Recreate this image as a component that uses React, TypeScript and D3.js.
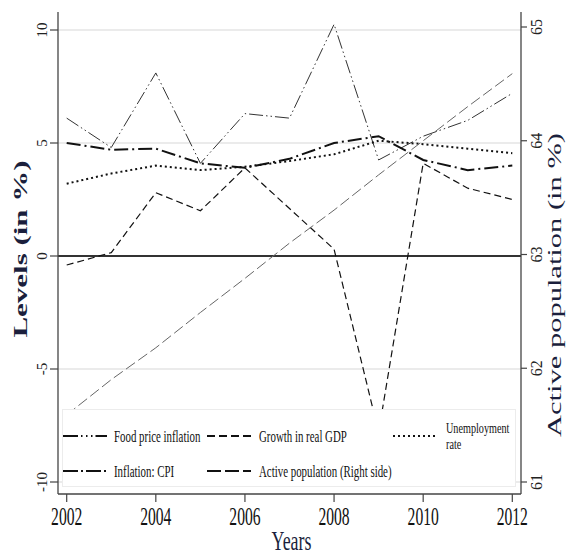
import * as d3 from 'd3';

// values
const years = [2002, 2003, 2004, 2005, 2006, 2007, 2008, 2009, 2010, 2011, 2012];
const foodInflation = [6.1, 4.8, 8.1, 4.1, 6.3, 6.1, 10.25, 4.25, 5.3, 6.0, 7.2];
const gdpGrowth = [-0.4, 0.15, 2.8, 2.0, 3.9, 2.1, 0.3, -7.8, 4.1, 3.0, 2.5];
const unemployment = [3.2, 3.65, 4.0, 3.8, 3.95, 4.2, 4.5, 5.1, 4.95, 4.75, 4.55];
const cpiInflation = [5.0, 4.7, 4.75, 4.1, 3.9, 4.3, 5.0, 5.3, 4.25, 3.8, 4.0];
const activePopulation = [61.59, 61.9, 62.18, 62.49, 62.79, 63.1, 63.39, 63.7, 64.0, 64.3, 64.59];

const leftTicks = [-10, -5, 0, 5, 10];
const rightTicks = [61, 62, 63, 64, 65];
const xTicks = [2002, 2004, 2006, 2008, 2010, 2012];

const W = 566;
const H = 556;
const axisLeft = 58;
const axisRight = 521;
const axisBottom = 494;
const axisTop = 12;

const x = d3.scaleLinear().domain([2002, 2012]).range([66.7, 512.3]);
const yL = d3.scaleLinear().domain([-10, 10]).range([482, 30]);
const yR = d3.scaleLinear().domain([61, 65]).range([482, 27]);

const lineL = (vals: number[]) =>
  d3.line<number>().x((_, i) => x(years[i])).y(d => yL(d))(vals) || '';
const lineR = (vals: number[]) =>
  d3.line<number>().x((_, i) => x(years[i])).y(d => yR(d))(vals) || '';

const serif = '"Liberation Serif", "Times New Roman", serif';
const titleColor = '#1b1f3c';

const series = [
  { name: 'food', d: lineL(foodInflation), stroke: '#333', width: 1, dash: '14,3,1.5,3,1.5,3' },
  { name: 'gdp', d: lineL(gdpGrowth), stroke: '#111', width: 1.2, dash: '7,4' },
  { name: 'unemp', d: lineL(unemployment), stroke: '#111', width: 2, dash: '2,3' },
  { name: 'cpi', d: lineL(cpiInflation), stroke: '#111', width: 2, dash: '14,4,2,4' },
  { name: 'active', d: lineR(activePopulation), stroke: '#666', width: 1, dash: '11,4' },
];

const legendItems = [
  { label: ['Food price inflation'], sx: 63, tx: 114, y: 436, dash: '15,3,1.5,3.5,1.5,3.5,1.5,3' },
  { label: ['Growth in real GDP'], sx: 207, tx: 259, y: 436, dash: '8,4' },
  { label: ['Unemployment', 'rate'], sx: 393, tx: 446, y: 436, dash: '2,3' },
  { label: ['Inflation: CPI'], sx: 63, tx: 114, y: 471, dash: '15,3,2,3' },
  { label: ['Active population (Right side)'], sx: 207, tx: 259, y: 471, dash: '14,4' },
];

const App = () => {
  return (
    <svg width={W} height={H} style={{ position: 'absolute', left: 0, top: 0, background: '#fff' }}>
      <rect width={W} height={H} fill="#fff" />

      {/* grid */}
      {leftTicks.filter(t => t !== 0).map(t => (
        <line key={t} x1={axisLeft} x2={axisRight} y1={yL(t)} y2={yL(t)} stroke="#e4e4e4" strokeWidth={1.5} />
      ))}
      <line x1={axisLeft} x2={axisRight} y1={yL(0)} y2={yL(0)} stroke="#333" strokeWidth={2} />

      {/* series */}
      {series.map(s => (
        <path key={s.name} d={s.d} fill="none" stroke={s.stroke} strokeWidth={s.width}
          strokeDasharray={s.dash} />
      ))}

      {/* legend */}
      <rect x={62.5} y={409.5} width={453} height={77} fill="#fff" stroke="#ececec" strokeWidth={1} />
      {legendItems.map(it => (
        <g key={it.label[0]}>
          <line x1={it.sx} x2={it.sx + 44} y1={it.y} y2={it.y} stroke="#111" strokeWidth={2.2}
            strokeDasharray={it.dash} />
          {it.label.length === 1 ? (
            <text transform={`translate(${it.tx},${it.y + 6}) scale(0.68,1)`} fontFamily={serif}
              fontSize={16} fill="#111">{it.label[0]}</text>
          ) : (
            it.label.map((l, j) => (
              <text key={l} transform={`translate(${it.tx},${it.y - 3 + j * 15.5}) scale(0.68,1)`}
                fontFamily={serif} fontSize={15} fill="#111">{l}</text>
            ))
          )}
        </g>
      ))}

      {/* axes */}
      <line x1={axisLeft} x2={axisLeft} y1={axisTop} y2={axisBottom} stroke="#444" strokeWidth={1.3} />
      <line x1={axisRight} x2={axisRight} y1={axisTop} y2={axisBottom} stroke="#444" strokeWidth={1.3} />
      <line x1={axisLeft} x2={axisRight} y1={axisBottom} y2={axisBottom} stroke="#444" strokeWidth={1.3} />

      {leftTicks.map(t => (
        <g key={t}>
          <line x1={axisLeft - 8} x2={axisLeft} y1={yL(t)} y2={yL(t)} stroke="#444" strokeWidth={1.2} />
          <text transform={`translate(47,${yL(t)}) rotate(-90)`} textAnchor="middle" fontFamily={serif}
            fontSize={15} fill="#222">{t}</text>
        </g>
      ))}
      {rightTicks.map(t => (
        <g key={t}>
          <line x1={axisRight} x2={axisRight + 6} y1={yR(t)} y2={yR(t)} stroke="#444" strokeWidth={1.2} />
          <text transform={`translate(542,${yR(t)}) rotate(-90)`} textAnchor="middle" fontFamily={serif}
            fontSize={16} fill="#222">{t}</text>
        </g>
      ))}
      {xTicks.map(t => (
        <g key={t}>
          <line x1={x(t)} x2={x(t)} y1={axisBottom} y2={axisBottom + 8} stroke="#444" strokeWidth={1.2} />
          <text transform={`translate(${x(t)},525) scale(0.6,1)`} textAnchor="middle" fontFamily={serif}
            fontSize={26} fill="#111">{t}</text>
        </g>
      ))}

      {/* titles */}
      <text transform="translate(291.5,550) scale(0.64,1)" textAnchor="middle" fontFamily={serif}
        fontSize={28} fill={titleColor}>Years</text>
      <text transform="translate(27,249) scale(0.6,1) rotate(-90)" textAnchor="middle" fontFamily={serif}
        fontSize={31} fontWeight="bold" fill={titleColor}>Levels (in %)</text>
      <text transform="translate(561,285) scale(0.6,1) rotate(-90)" textAnchor="middle" fontFamily={serif}
        fontSize={30.5} fill={titleColor}>Active population (in %)</text>
    </svg>
  );
};

export default App;
